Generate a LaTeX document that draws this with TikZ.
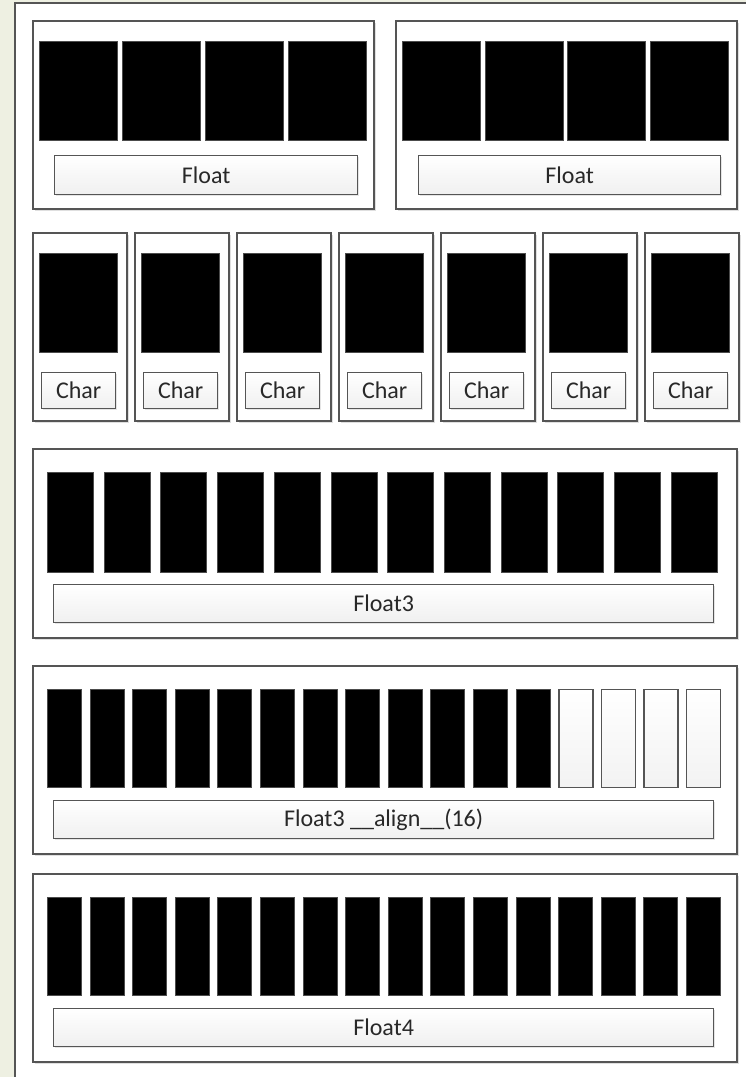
\documentclass[tikz,border=0pt]{standalone}
\usepackage{fontspec}
\setmainfont{Carlito}
\usepackage{tikz}
\usetikzlibrary{shadows,positioning}
\definecolor{pagebg}{RGB}{238,240,226}
\definecolor{framegray}{RGB}{85,85,85}
\definecolor{textgray}{RGB}{40,40,40}

\tikzset{
  panel/.style={draw=framegray, line width=1.5pt, fill=white, anchor=north west,
    inner sep=0pt, drop shadow={shadow xshift=2pt, shadow yshift=-2pt, opacity=0.25}},
  cell/.style={draw=black!70, line width=0.8pt, fill=black, anchor=north west, inner sep=0pt},
  emptycell/.style={draw=framegray, line width=1.3pt, top color=white, bottom color=gray!10,
    anchor=north west, inner sep=0pt},
  tag/.style={draw=framegray, line width=1.3pt, top color=white, bottom color=gray!12,
    anchor=north west, inner sep=0pt, text=textgray, font=\fontsize{24}{28}\selectfont,
    drop shadow={shadow xshift=1.5pt, shadow yshift=-1.5pt, opacity=0.2}}
}

\begin{document}
\begin{tikzpicture}[x=1pt, y=-1pt]
  \useasboundingbox (0,0) rectangle (746,1077);
  %Page
  \fill[pagebg] (0,0) rectangle (746,1077);
  \draw[framegray, fill=white, line width=1.2pt] (15,3) rectangle (770,1100);
  %Float
  \node[panel, minimum width=341, minimum height=188] (fpanelA) at (32,20) {};
  \node[panel, minimum width=341, minimum height=188] (fpanelB) at (395,20) {};
  \foreach \i in {0,...,3} {
    \node[cell, minimum width=78, minimum height=99] (fa\i) at (39+83*\i,41) {};
    \node[cell, minimum width=78, minimum height=99] (fb\i) at (402+82.5*\i,41) {};
  }
  \node[tag, minimum width=303, minimum height=39] (ftagA) at (54,155) {Float};
  \node[tag, minimum width=302, minimum height=39] (ftagB) at (418,155) {Float};
  %Char
  \foreach \i in {0,...,6} {
    \node[panel, minimum width=94, minimum height=188] (cpanel\i) at (32+102*\i,232) {};
    \node[cell, minimum width=78, minimum height=99] (c\i) at (39+102*\i,253) {};
    \node[tag, minimum width=74, minimum height=36] (ctag\i) at (41+102*\i,372) {Char};
  }
  %Float3
  \node[panel, minimum width=704, minimum height=189] (tpanel) at (32,448) {};
  \foreach \i in {0,...,11}
    \node[cell, minimum width=46, minimum height=100] (t\i) at (47+56.7*\i,472) {};
  \node[tag, minimum width=660, minimum height=38] (ttag) at (53,584) {Float3};
  %Float3 aligned
  \node[panel, minimum width=704, minimum height=188] (apanel) at (32,665) {};
  \foreach \i in {0,...,11}
    \node[cell, minimum width=34, minimum height=98] (a\i) at (47+42.6*\i,689) {};
  \foreach \i in {12,...,15}
    \node[emptycell, minimum width=34, minimum height=98] (a\i) at (47+42.6*\i,689) {};
  \node[tag, minimum width=660, minimum height=38] (atag) at (53,800) {Float3 \_\_align\_\_(16)};
  %Float4
  \node[panel, minimum width=704, minimum height=188] (qpanel) at (32,873) {};
  \foreach \i in {0,...,15}
    \node[cell, minimum width=34, minimum height=98] (q\i) at (47+42.6*\i,897) {};
  \node[tag, minimum width=660, minimum height=38] (qtag) at (53,1008) {Float4};
\end{tikzpicture}
\end{document}
